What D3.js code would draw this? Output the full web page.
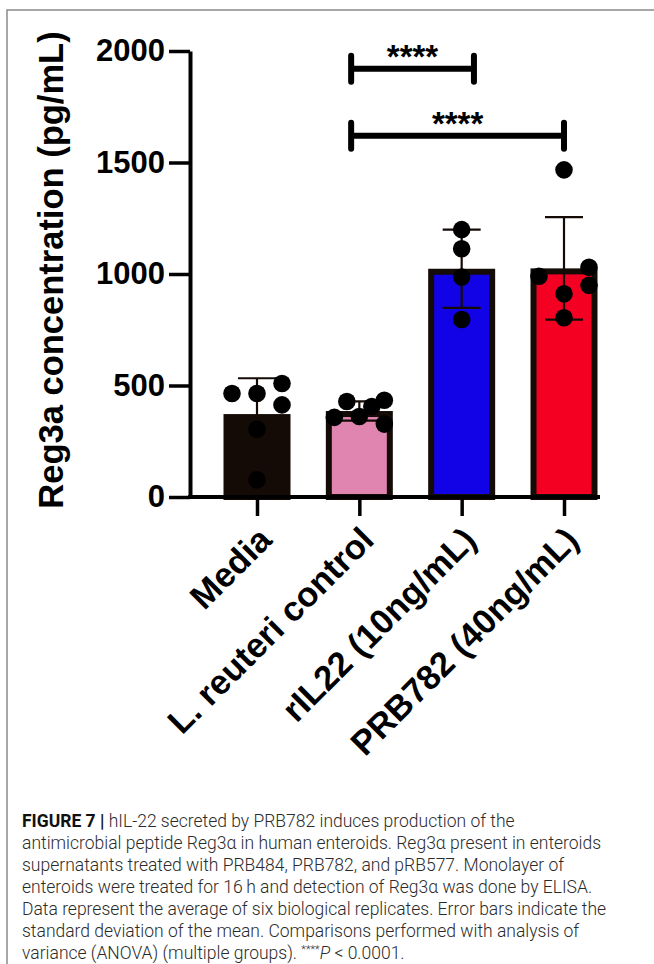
<!DOCTYPE html>
<html>
<head>
<meta charset="utf-8">
<script src="https://cdn.jsdelivr.net/npm/d3@7"></script>
<style>
  html, body { margin: 0; padding: 0; background: #fff; }
  svg { display: block; }
</style>
</head>
<body>
<svg id="chart" width="654" height="964"></svg>
<script>
/* global d3 */

// Reg3a bar chart (GraphPad style): mean bar + SD error bar + replicate dots.

const groups = ["Media", "L. reuteri control", "rIL22 (10ng/mL)", "PRB782 (40ng/mL)"];
const barColors = ["#140b06", "#df85b0", "#1202e6", "#f30023"];

// replicate values (pg/mL)
const mediaValues = [464, 464, 509, 413, 304, 77];
const reuteriValues = [357, 428, 361, 406, 434, 327];
const rIL22Values = [1199, 1113, 986, 796];
const prb782Values = [1467, 990, 1030, 949, 911, 804];

// scatter column of each dot (-2..2, 0 = centre)
const mediaSlots = [-2, 0, 2, 2, 0, 0];
const reuteriSlots = [-2, -1, 0, 1, 2, 2];
const rIL22Slots = [0, 0, 0, 0];
const prb782Slots = [0, -2, 2, 2, 0, 0];

const yTicks = [0, 500, 1000, 1500, 2000];
const yTitle = "Reg3a concentration (pg/mL)";

// significance brackets, ends given in group-index units
const comparisons = [
  { from: 0.92, to: 2.12, value: 1920, label: "****" },
  { from: 0.92, to: 3.0, value: 1620, label: "****" },
];

const captionTitle = "FIGURE 7 |";
const captionLines = [
  " hIL-22 secreted by PRB782 induces production of the",
  "antimicrobial peptide Reg3\u03b1 in human enteroids. Reg3\u03b1 present in enteroids",
  "supernatants treated with PRB484, PRB782, and pRB577. Monolayer of",
  "enteroids were treated for 16\u2009h and detection of Reg3\u03b1 was done by ELISA.",
  "Data represent the average of six biological replicates. Error bars indicate the",
  "standard deviation of the mean. Comparisons performed with analysis of",
  "variance (ANOVA) (multiple groups). ",
];
const captionStars = "****";
const captionP = "P";
const captionTail = " < 0.0001.";

const valuesByGroup = [mediaValues, reuteriValues, rIL22Values, prb782Values];
const slotsByGroup = [mediaSlots, reuteriSlots, rIL22Slots, prb782Slots];

const BOLD = "'Liberation Sans', Arial, Helvetica, sans-serif";
const LIGHT = "Roboto, 'Liberation Sans', Arial, sans-serif";
const INK = "#140b06";

const plot = { left: 190, right: 600, top: 51, bottom: 497 };
const barW = 61;
const barStroke = 6;
const slotW = 12.5;
const dotR = 8.8;
const capW = 38;

const svg = d3.select("#chart");
svg.append("rect").attr("width", 654).attr("height", 964).attr("fill", "#fff");

// frame lines of the figure panel
svg.append("path")
  .attr("d", "M7,964V10H654")
  .attr("fill", "none")
  .attr("stroke", "#8a8a8a")
  .attr("stroke-width", 1.5);

const y = d3.scaleLinear().domain([0, 2000]).range([plot.bottom, plot.top]);
const x = d3.scalePoint().domain(groups).range([plot.left + 67, plot.right - 36]);
const xIdx = d3.scaleLinear().domain([0, groups.length - 1]).range(x.range());

const stats = valuesByGroup.map((vals, i) => ({
  group: groups[i],
  mean: d3.mean(vals),
  sd: d3.deviation(vals),
  color: barColors[i],
}));

// bars
svg.append("g")
  .selectAll("rect")
  .data(stats)
  .join("rect")
  .attr("x", (d) => x(d.group) - barW / 2)
  .attr("y", (d) => y(d.mean) + barStroke / 2)
  .attr("width", barW)
  .attr("height", (d) => y(0) - y(d.mean) - barStroke / 2)
  .attr("fill", (d) => d.color)
  .attr("stroke", INK)
  .attr("stroke-width", barStroke);

// error bars (mean ± SD)
const eb = svg.append("g").attr("stroke", INK).attr("stroke-width", 2.2).attr("fill", "none");
stats.forEach((d) => {
  const cx = x(d.group);
  const y0 = y(d.mean - d.sd);
  const y1 = y(d.mean + d.sd);
  eb.append("line").attr("x1", cx).attr("x2", cx).attr("y1", y0).attr("y2", y1);
  eb.append("line").attr("x1", cx - capW / 2).attr("x2", cx + capW / 2).attr("y1", y1).attr("y2", y1);
  eb.append("line").attr("x1", cx - capW / 2).attr("x2", cx + capW / 2).attr("y1", y0).attr("y2", y0);
});

// replicate dots
const dots = [];
valuesByGroup.forEach((vals, i) => {
  vals.forEach((v, j) => dots.push({ group: groups[i], value: v, slot: slotsByGroup[i][j] }));
});
svg.append("g")
  .selectAll("circle")
  .data(dots)
  .join("circle")
  .attr("cx", (d) => x(d.group) + d.slot * slotW)
  .attr("cy", (d) => y(d.value))
  .attr("r", dotR)
  .attr("fill", "#000");

// y axis
const yAxis = svg.append("g")
  .attr("transform", `translate(${plot.left},0)`)
  .call(d3.axisLeft(y).tickValues(yTicks).tickSize(21).tickSizeOuter(0).tickPadding(4).tickFormat(d3.format("d")));
yAxis.select(".domain").attr("stroke", "#000").attr("stroke-width", 4);
yAxis.selectAll(".tick line").attr("stroke", "#000").attr("stroke-width", 3.5);
yAxis.selectAll(".tick text")
  .attr("font-family", BOLD)
  .attr("font-weight", "bold")
  .attr("font-size", 31)
  .attr("fill", "#000");

// x axis: baseline across the plot, ticks at the bar centres
svg.append("line")
  .attr("x1", plot.left - 2).attr("x2", plot.right)
  .attr("y1", y(0)).attr("y2", y(0))
  .attr("stroke", "#000").attr("stroke-width", 4);
const xAxis = svg.append("g")
  .attr("transform", `translate(0,${y(0)})`)
  .call(d3.axisBottom(x).tickSize(19).tickSizeOuter(0));
xAxis.select(".domain").remove();
xAxis.selectAll(".tick line").attr("stroke", "#000").attr("stroke-width", 3.5);
xAxis.selectAll(".tick text")
  .attr("font-family", BOLD)
  .attr("font-weight", "bold")
  .attr("font-size", 34.5)
  .attr("fill", "#000")
  .attr("text-anchor", "end")
  .attr("y", 0)
  .attr("dy", 0)
  .attr("transform", "translate(16,45) rotate(-45)");

// y title
svg.append("text")
  .attr("transform", `translate(63,${(plot.top + plot.bottom) / 2 - 4}) rotate(-90)`)
  .attr("text-anchor", "middle")
  .attr("font-family", BOLD)
  .attr("font-weight", "bold")
  .attr("font-size", 34.5)
  .attr("fill", "#000")
  .text(yTitle);

// significance brackets
const br = svg.append("g");
comparisons.forEach((c) => {
  const x0 = xIdx(c.from);
  const x1 = xIdx(c.to);
  const yy = y(c.value);
  br.append("path")
    .attr("d", `M${x0},${yy - 13}V${yy + 13}M${x0},${yy}H${x1}M${x1},${yy - 13}V${yy + 13}`)
    .attr("fill", "none")
    .attr("stroke", "#000")
    .attr("stroke-width", 6)
    .attr("stroke-linecap", "round");
  br.append("text")
    .attr("x", (x0 + x1) / 2)
    .attr("y", yy - 1)
    .attr("text-anchor", "middle")
    .attr("font-family", BOLD)
    .attr("font-weight", "bold")
    .attr("font-size", 33)
    .attr("fill", "#000")
    .text(c.label);
});

// caption
const cap = svg.append("g")
  .attr("font-family", LIGHT)
  .attr("font-weight", 300)
  .attr("fill", "#2b2b2b");
const capX = 22;
const capY0 = 827;
const capLH = 22;
const capFont = 17.5;
captionLines.forEach((line, i) => {
  const t = cap.append("text")
    .attr("x", capX)
    .attr("y", capY0 + i * capLH)
    .attr("font-size", capFont);
  if (i === 0) {
    t.append("tspan").attr("font-weight", "bold").attr("fill", "#111").text(captionTitle);
  }
  t.append("tspan").text(line);
  if (i === captionLines.length - 1) {
    t.append("tspan").attr("font-size", capFont * 0.62).attr("dy", -6).text(captionStars);
    t.append("tspan").attr("dy", 6).attr("font-style", "italic").text(captionP);
    t.append("tspan").text(captionTail);
  }
});
</script>
</body>
</html>
